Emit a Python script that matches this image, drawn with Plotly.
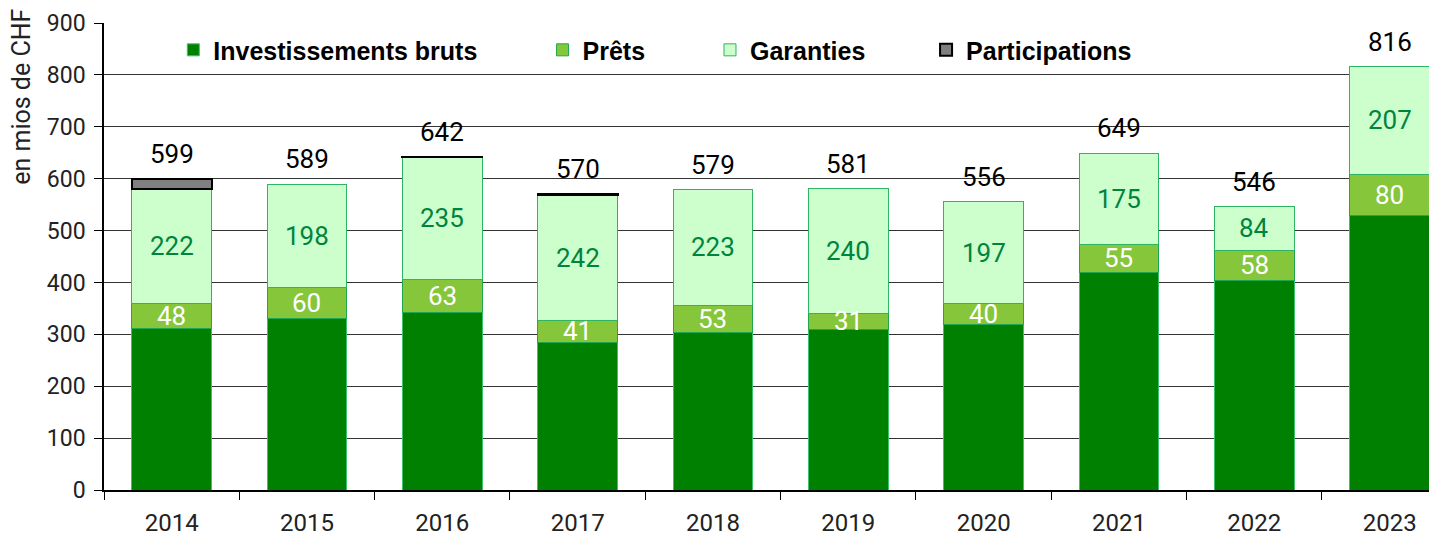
import plotly.graph_objects as go

years = ["2014", "2015", "2016", "2017", "2018", "2019", "2020", "2021", "2022", "2023"]
investissements = [311, 331, 343, 285, 303, 310, 319, 419, 404, 529]
prets = [48, 60, 63, 41, 53, 31, 40, 55, 58, 80]
garanties = [222, 198, 235, 242, 223, 240, 197, 175, 84, 207]
participations = [18, 0, 1, 2, 0, 0, 0, 0, 0, 0]
totals = [599, 589, 642, 570, 579, 581, 556, 649, 546, 816]
yticks = [0, 100, 200, 300, 400, 500, 600, 700, 800, 900]

NUM_FONT = "Roboto, Liberation Sans Narrow, Arial Narrow, sans-serif"
LEG_FONT = "Liberation Sans, Arial, sans-serif"

fig = go.Figure()
fig.add_trace(go.Bar(x=years, y=investissements, name="Investissements bruts",
                     marker=dict(color="#008000", line=dict(color="#3CC26A", width=1)),
                     legend="legend"))
fig.add_trace(go.Bar(x=years, y=prets, name="Prêts",
                     marker=dict(color="#86C63A", line=dict(color="#1FA64F", width=1)),
                     legend="legend2"))
fig.add_trace(go.Bar(x=years, y=garanties, name="Garanties",
                     marker=dict(color="#CCFFCC", line=dict(color="#2EB463", width=1)),
                     legend="legend3"))
fig.add_trace(go.Bar(x=years, y=participations, name="Participations",
                     marker=dict(color="#808080",
                                 line=dict(color="#000000",
                                           width=[2 if v > 0 else 0 for v in participations])),
                     legend="legend4"))

annotations = []
for i, yr in enumerate(years):
    # Prêts label (white)
    annotations.append(dict(x=i, y=investissements[i] + prets[i] / 2, text=str(prets[i]),
                            showarrow=False, xref="x", yref="y",
                            font=dict(family=NUM_FONT, size=26, color="white")))
    # Garanties label (green)
    annotations.append(dict(x=i, y=investissements[i] + prets[i] + garanties[i] / 2,
                            text=str(garanties[i]), showarrow=False, xref="x", yref="y",
                            font=dict(family=NUM_FONT, size=26, color="#00843D")))
    # total label
    annotations.append(dict(x=i, y=totals[i], text=str(totals[i]), showarrow=False,
                            xref="x", yref="y", yanchor="bottom", yshift=8,
                            font=dict(family=NUM_FONT, size=26, color="black")))

annotations.append(dict(x=-0.0615, y=0.842, xref="paper", yref="paper", text="en mios de CHF",
                        textangle=-90, showarrow=False, xanchor="center", yanchor="middle",
                        font=dict(family=NUM_FONT, size=25, color="#222")))

leg_common = dict(orientation="h", yanchor="middle", y=0.942, xanchor="left",
                  bgcolor="rgba(0,0,0,0)", borderwidth=0,
                  font=dict(family=LEG_FONT, size=25, color="black", weight="bold"),
                  itemwidth=30)

# page body adds an 8px offset; figure is sized/margined to compensate
fig.update_layout(
    width=1429, height=528,
    margin=dict(l=96, r=0, t=15, b=46),
    paper_bgcolor="white", plot_bgcolor="white",
    barmode="stack", bargap=0.41,
    showlegend=True,
    legend=dict(x=0.052, **leg_common),
    legend2=dict(x=0.329, **leg_common),
    legend3=dict(x=0.4546, **leg_common),
    legend4=dict(x=0.6167, **leg_common),
    annotations=annotations,
    xaxis=dict(type="category", range=[-0.5, 9.35], showline=True, linecolor="black",
               linewidth=1.5, ticks="outside", tickson="boundaries", ticklen=8,
               tickcolor="black", tickfont=dict(family=NUM_FONT, size=24, color="#222"),
               ticklabelstandoff=10, showgrid=False),
    yaxis=dict(range=[0, 900], tickvals=yticks, showline=True, linecolor="black",
               linewidth=1.5, ticks="outside", ticklen=8, tickcolor="black",
               tickfont=dict(family=NUM_FONT, size=23, color="#222"),
               ticklabelstandoff=4,
               showgrid=True, gridcolor="#333", gridwidth=1, zeroline=False),
)

fig.write_html("out.html")
